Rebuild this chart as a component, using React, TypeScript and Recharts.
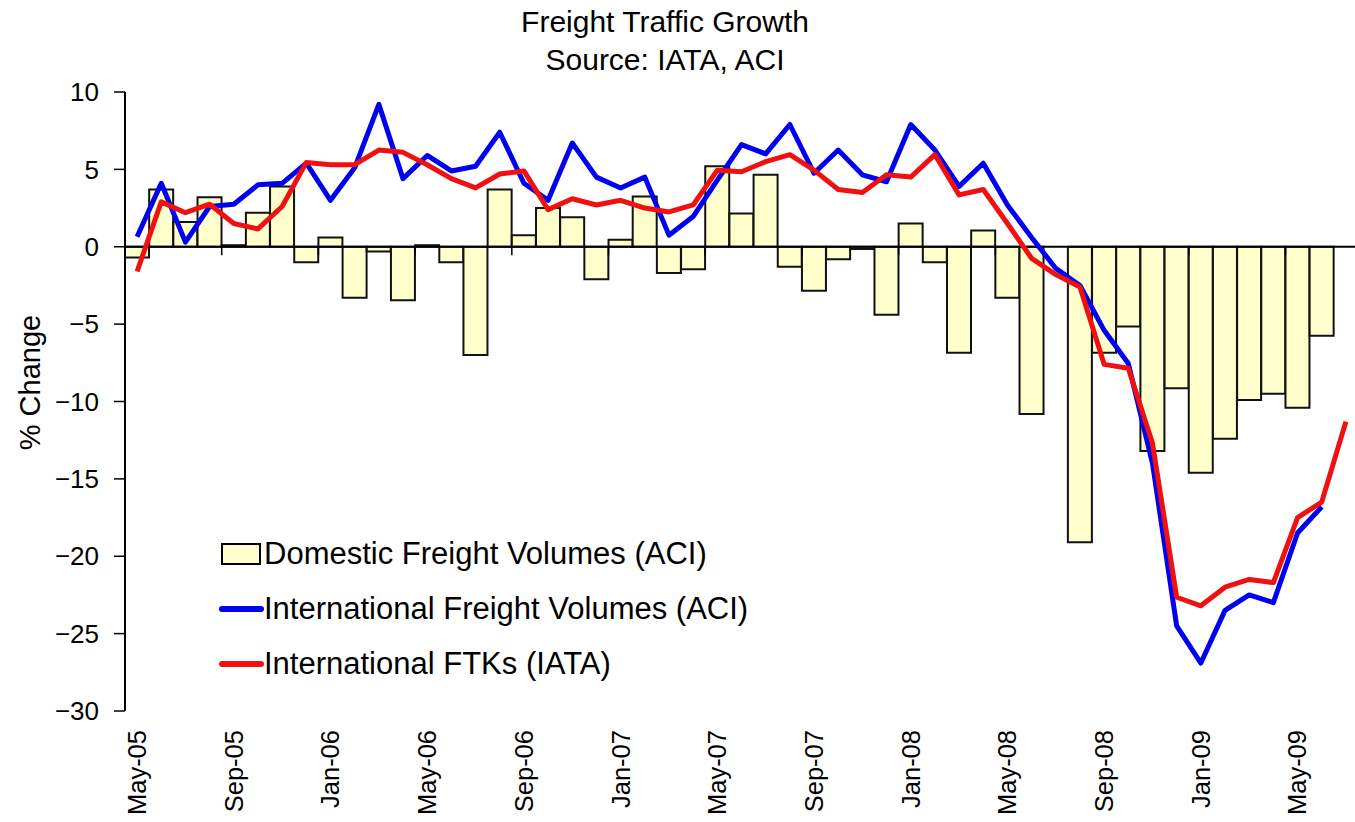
import {
  ComposedChart,
  Bar,
  Line,
  XAxis,
  YAxis,
  ReferenceLine,
  Legend,
} from 'recharts';

const FONT = "'Liberation Sans', Arial, Helvetica, sans-serif";

// Monthly periods, May-05 .. Jul-09
const months = [
  'May-05', 'Jun-05', 'Jul-05', 'Aug-05', 'Sep-05', 'Oct-05', 'Nov-05', 'Dec-05',
  'Jan-06', 'Feb-06', 'Mar-06', 'Apr-06', 'May-06', 'Jun-06', 'Jul-06', 'Aug-06',
  'Sep-06', 'Oct-06', 'Nov-06', 'Dec-06', 'Jan-07', 'Feb-07', 'Mar-07', 'Apr-07',
  'May-07', 'Jun-07', 'Jul-07', 'Aug-07', 'Sep-07', 'Oct-07', 'Nov-07', 'Dec-07',
  'Jan-08', 'Feb-08', 'Mar-08', 'Apr-08', 'May-08', 'Jun-08', 'Jul-08', 'Aug-08',
  'Sep-08', 'Oct-08', 'Nov-08', 'Dec-08', 'Jan-09', 'Feb-09', 'Mar-09', 'Apr-09',
  'May-09', 'Jun-09', 'Jul-09',
];

// Domestic Freight Volumes (ACI), % change
const domesticVolumes = [
  -0.7, 3.7, 1.6, 3.2, 0.1, 2.2, 3.9, -1.0,
  0.6, -3.3, -0.3, -3.45, 0.1, -1.0, -7.0, 3.7,
  0.75, 2.5, 1.9, -2.1, 0.45, 3.25, -1.7, -1.45,
  5.2, 2.15, 4.65, -1.3, -2.85, -0.8, -0.15, -4.4,
  1.5, -1.0, -6.85, 1.05, -3.3, -10.8, null, -19.1,
  -6.85, -5.15, -13.2, -9.15, -14.6, -12.4, -9.9, -9.5,
  -10.4, -5.75, null,
];

// International Freight Volumes (ACI), % change
const intlVolumes = [
  0.65, 4.1, 0.3, 2.6, 2.75, 4.0, 4.1, 5.4,
  3.0, 5.1, 9.2, 4.4, 5.9, 4.9, 5.2, 7.4,
  4.1, 3.0, 6.7, 4.5, 3.8, 4.5, 0.75, 1.95,
  4.3, 6.6, 6.0, 7.9, 4.75, 6.25, 4.65, 4.2,
  7.9, 6.25, 3.9, 5.4, 2.7, 0.6, -1.4, -2.5,
  -5.4, -7.55, -14.0, -24.5, -26.9, -23.5, -22.5, -23.0,
  -18.5, -16.8, null,
];

// International FTKs (IATA), % change
const intlFtks = [
  -1.6, 2.9, 2.2, 2.75, 1.5, 1.15, 2.6, 5.45,
  5.3, 5.3, 6.25, 6.1, 5.3, 4.4, 3.8, 4.7,
  4.9, 2.4, 3.1, 2.7, 3.0, 2.5, 2.25, 2.7,
  4.95, 4.85, 5.5, 5.95, 4.95, 3.7, 3.5, 4.65,
  4.5, 5.95, 3.35, 3.7, 1.5, -0.75, -1.8, -2.6,
  -7.6, -7.85, -12.7, -22.65, -23.2, -22.0, -21.5, -21.7,
  -17.5, -16.5, -11.3,
];

const yTicks = [10, 5, 0, -5, -10, -15, -20, -25, -30];

const seriesNames = [
  'Domestic Freight Volumes (ACI)',
  'International Freight Volumes (ACI)',
  'International FTKs (IATA)',
];

const BAR_FILL = '#FFFFCC';
const BLUE = '#0000F0';
const RED = '#F01010';

const data = months.map((month, i) => ({
  month,
  domestic: domesticVolumes[i],
  intlVol: intlVolumes[i],
  ftk: intlFtks[i],
}));

// category ticks sit on the zero line, at the left edge of every 4th month
const tickMonths = months.filter((_, i) => i % 4 === 0 && i > 0);

const renderMonthTick = (props: any) => {
  const { x, y, payload } = props;
  const ty = y + 19;
  return (
    <text
      x={x}
      y={ty}
      transform={`rotate(-90, ${x}, ${ty})`}
      textAnchor="end"
      dy="0.35em"
      fontSize={25.5}
      fontFamily={FONT}
      fill="#000"
    >
      {payload.value}
    </text>
  );
};

const renderYLabel = (props: any) => {
  const vb = props.viewBox || { x: 0, y: 92, width: 125, height: 619 };
  const cx = vb.x + 30;
  const cy = vb.y + vb.height / 2 - 19;
  return (
    <text
      x={cx}
      y={cy}
      transform={`rotate(-90, ${cx}, ${cy})`}
      textAnchor="middle"
      dy="0.35em"
      fontSize={29}
      fontFamily={FONT}
      fill="#000"
    >
      % Change
    </text>
  );
};

const renderLegend = () => (
  <div style={{ fontFamily: FONT, fontSize: 31, color: '#000' }}>
    {seriesNames.map((name, i) => (
      <div
        key={name}
        style={{ display: 'flex', alignItems: 'center', height: 55, whiteSpace: 'nowrap' }}
      >
        <svg width={46} height={26} style={{ display: 'block' }}>
          {i === 0 ? (
            <rect x={4} y={3} width={38} height={20} fill={BAR_FILL} stroke="#000" strokeWidth={2} />
          ) : (
            <line
              x1={4}
              y1={13}
              x2={43}
              y2={13}
              stroke={i === 1 ? BLUE : RED}
              strokeWidth={6}
              strokeLinecap="round"
            />
          )}
        </svg>
        <span>{name}</span>
      </div>
    ))}
  </div>
);

export default function App() {
  return (
    <div
      style={{
        position: 'absolute',
        left: 0,
        top: 0,
        width: 1355,
        height: 822,
        overflow: 'hidden',
        background: '#fff',
      }}
    >
      <div
        style={{
          position: 'absolute',
          left: 0,
          top: 3,
          width: 1330,
          textAlign: 'center',
          fontFamily: FONT,
          fontSize: 30,
          lineHeight: '38px',
          color: '#000',
          zIndex: 2,
        }}
      >
        <div>Freight Traffic Growth</div>
        <div>Source: IATA, ACI</div>
      </div>

      <ComposedChart
        width={1362}
        height={822}
        data={data}
        margin={{ top: 92, right: 4, bottom: 0, left: 0 }}
        barCategoryGap={0}
        barGap={0}
      >
        <XAxis
          dataKey="month"
          interval={3}
          height={111}
          tickLine={false}
          axisLine={false}
          tickSize={0}
          tickMargin={0}
          tick={renderMonthTick}
        />
        <YAxis
          width={125}
          domain={[-30, 10]}
          ticks={yTicks}
          interval={0}
          tickSize={11}
          tickMargin={15}
          axisLine={{ stroke: '#000', strokeWidth: 2 }}
          tickLine={{ stroke: '#000', strokeWidth: 1.5 }}
          tick={{ fill: '#000', fontSize: 26, fontFamily: FONT }}
          tickFormatter={(v) => String(v).replace('-', '\u2212')}
          label={renderYLabel}
        />
        <Bar
          dataKey="domestic"
          name={seriesNames[0]}
          fill={BAR_FILL}
          stroke="#111"
          strokeWidth={2}
          isAnimationActive={false}
        />
        <ReferenceLine y={0} stroke="#000" strokeWidth={1.8} />
        {tickMonths.map((m) => (
          <ReferenceLine
            key={m}
            segment={[
              { x: m, y: 0 },
              { x: m, y: -0.55 },
            ]}
            position="start"
            stroke="#000"
            strokeWidth={1.5}
            ifOverflow="visible"
          />
        ))}
        <Line
          type="linear"
          dataKey="intlVol"
          name={seriesNames[1]}
          stroke={BLUE}
          strokeWidth={5}
          strokeLinejoin="round"
          dot={false}
          activeDot={false}
          isAnimationActive={false}
        />
        <Line
          type="linear"
          dataKey="ftk"
          name={seriesNames[2]}
          stroke={RED}
          strokeWidth={5}
          strokeLinejoin="round"
          dot={false}
          activeDot={false}
          isAnimationActive={false}
        />
        <Legend
          layout="vertical"
          align="center"
          verticalAlign="middle"
          wrapperStyle={{ left: 218, top: 526, width: 560, height: 165 }}
          content={renderLegend}
        />
      </ComposedChart>
    </div>
  );
}
